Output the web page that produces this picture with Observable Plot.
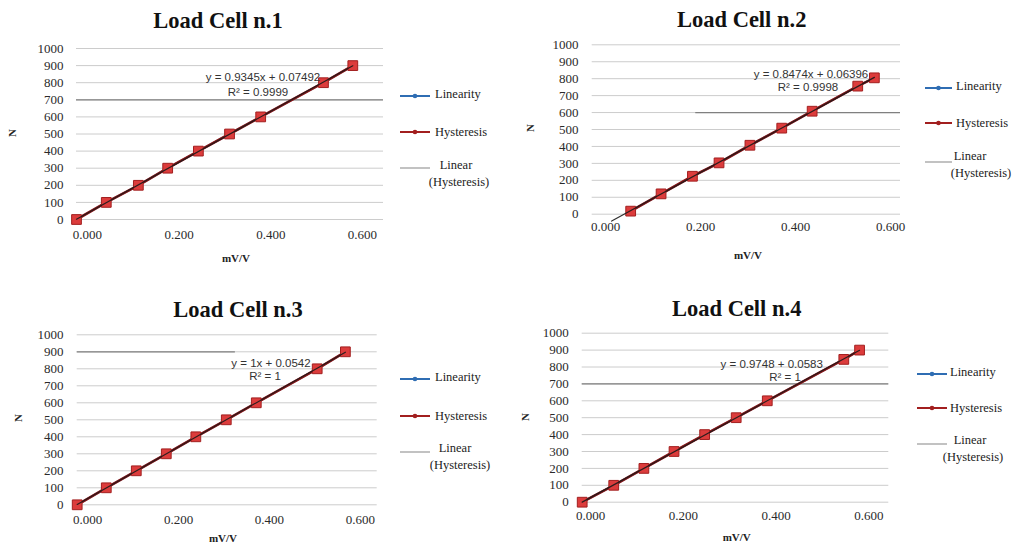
<!DOCTYPE html>
<html><head><meta charset="utf-8">
<script src="https://cdn.jsdelivr.net/npm/d3@7"></script>
<script src="https://cdn.jsdelivr.net/npm/@observablehq/plot@0.6"></script>
<style>
html,body{margin:0;padding:0;background:#fff;}
#root{position:relative;width:1015px;height:547px;overflow:hidden;background:#fff;}
.panel{position:absolute;}
.panel svg text{font-family:'Liberation Serif',serif !important;font-size:13px;fill:#2a2a2a;}
#overlay{position:absolute;left:0;top:0;pointer-events:none;}
</style>
</head><body>
<div id="root"></div>
<script>
// ---- data ----
const titles = ["Load Cell n.1", "Load Cell n.2", "Load Cell n.3", "Load Cell n.4"];
const cell1_mvv = [-0.024, 0.041, 0.111, 0.175, 0.242, 0.310, 0.378, 0.515, 0.579];
const cell1_N   = [0, 100, 200, 300, 400, 500, 600, 800, 900];
const cell2_mvv = [0.053, 0.117, 0.183, 0.239, 0.304, 0.371, 0.435, 0.531, 0.566];
const cell2_N   = [18, 120, 224, 303, 407, 508, 608, 756, 805];
const cell3_mvv = [-0.023, 0.041, 0.107, 0.173, 0.238, 0.305, 0.371, 0.505, 0.567];
const cell3_N   = [0, 100, 200, 300, 400, 500, 600, 800, 900];
const cell4_mvv = [-0.018, 0.050, 0.115, 0.180, 0.246, 0.314, 0.381, 0.546, 0.580];
const cell4_N   = [0, 100, 200, 300, 400, 500, 600, 845, 900];
const equations = ["y = 0.9345x + 0.07492", "y = 0.8474x + 0.06396", "y = 1x + 0.0542", "y = 0.9748 + 0.0583"];
const rSquared  = ["R² = 0.9999", "R² = 0.9998", "R² = 1", "R² = 1"];
const trendFrom = [null, 0.013, null, null];        // trendline start (mV/V); null = first point
// grid lines drawn darker in the picture: [N, from mV/V, to mV/V] (null = plot edge)
const darkGrid  = [[[700, null, null]], [[600, 0.19, null]], [[900, null, 0.325]], [[700, null, null]]];
const yTicks = [0, 100, 200, 300, 400, 500, 600, 700, 800, 900, 1000];
const xTicks = [0, 0.2, 0.4, 0.6];
const legendLabels = ["Linearity", "Hysteresis", "Linear", "(Hysteresis)"];
const xLabel = "mV/V", yLabel = "N";

const mvv = [cell1_mvv, cell2_mvv, cell3_mvv, cell4_mvv];
const loads = [cell1_N, cell2_N, cell3_N, cell4_N];

// ---- layout ----
const layout = [
  {left:0, top:0, w:500, h:270, ml:76, mr:117, mt:48, mb:51, xd:[-0.024,0.646], xpad:10, ypad:13,
   title:[218,28], ylab:[12,133], xlab:[236,258], eq:[[263,77],[258,92]],
   leg:{x1:400,x2:430,tx:435, y:[96,132,168], lin:[456,165], hys:[459,182]}},
  {left:500, top:0, w:515, h:270, ml:91.7, mr:115, mt:44.3, mb:56.3, xd:[-0.028,0.621], xpad:8, ypad:13.7,
   title:[741.7,27], ylab:[530,128], xlab:[748,255], eq:[[811,74],[808,87]],
   leg:{x1:925,x2:952,tx:956, y:[88,123,162], lin:[970,156], hys:[981,173]}},
  {left:0, top:290, w:500, h:257, ml:76.7, mr:123.3, mt:44.3, mb:42.7, xd:[-0.023,0.637], xpad:10, ypad:13.7,
   title:[238,317], ylab:[18,418], xlab:[223,538], eq:[[271,363],[265,376]],
   leg:{x1:400,x2:430,tx:435, y:[379,416,452], lin:[455,448], hys:[460,465]}},
  {left:500, top:290, w:515, h:257, ml:81.7, mr:126.7, mt:42.7, mb:45.3, xd:[-0.018,0.643], xpad:8.3, ypad:13.4,
   title:[736.7,316], ylab:[525,417], xlab:[736.7,537], eq:[[771.7,364],[785,377]],
   leg:{x1:917,x2:947,tx:950, y:[374,408,444], lin:[970,440], hys:[973,457]}}
];

function fit(xs, ys) {
  const mx = d3.mean(xs), my = d3.mean(ys);
  let sxy = 0, sxx = 0;
  xs.forEach((x, i) => { sxy += (x - mx) * (ys[i] - my); sxx += (x - mx) ** 2; });
  const b = sxy / sxx; return {b, a: my - b * mx};
}

const root = document.getElementById("root");
layout.forEach((L, i) => {
  const data = mvv[i].map((x, k) => ({x, y: loads[i][k]}));
  const {a, b} = fit(mvv[i], loads[i]);
  const x0 = trendFrom[i] ?? d3.min(mvv[i]), x1 = d3.max(mvv[i]);
  const trend = [x0, x1].map(x => ({x, y: a + b * x}));
  const dark = darkGrid[i].map(([y, f, t]) => ({y, x1: f ?? L.xd[0], x2: t ?? L.xd[1]}));
  const chart = Plot.plot({
    width: L.w, height: L.h,
    marginLeft: L.ml, marginRight: L.mr, marginTop: L.mt, marginBottom: L.mb,
    style: {fontFamily: "'Liberation Serif', serif", fontSize: "13px", color: "#2a2a2a", background: "transparent", overflow: "visible"},
    x: {domain: L.xd, ticks: xTicks, tickFormat: d3.format(".3f"), tickSize: 0, tickPadding: L.xpad, label: null},
    y: {domain: [0, 1000], ticks: yTicks, tickFormat: d3.format("d"), tickSize: 0, tickPadding: L.ypad, label: null},
    marks: [
      Plot.ruleY(yTicks, {stroke: "#cccccc", strokeWidth: 1}),
      Plot.ruleY(dark, {y: "y", x1: "x1", x2: "x2", stroke: "#808080", strokeWidth: 1.2}),
      Plot.line(data, {x: "x", y: "y", stroke: "#2f6db3", strokeWidth: 2}),
      Plot.line(data, {x: "x", y: "y", stroke: "#8e1616", strokeWidth: 2.6}),
      Plot.dot(data, {x: "x", y: "y", symbol: "square", r: 5.5, fill: "#dc3c3c", stroke: "#a21f1f", strokeWidth: 1}),
      Plot.line(trend, {x: "x", y: "y", stroke: "#1a1a1a", strokeWidth: 1.2, strokeOpacity: 0.9})
    ]
  });
  const div = document.createElement("div");
  div.className = "panel";
  div.style.left = L.left + "px"; div.style.top = L.top + "px";
  div.appendChild(chart);
  root.appendChild(div);
});

// ---- overlay: titles, axis titles, equations, legends ----
const svg = d3.select(root).append("svg").attr("id", "overlay").attr("width", 1015).attr("height", 547);
layout.forEach((L, i) => {
  svg.append("text").attr("x", L.title[0]).attr("y", L.title[1]).attr("text-anchor", "middle")
    .attr("font-family", "'Liberation Serif', serif").attr("font-weight", "bold").attr("font-size", 22.5)
    .attr("fill", "#111").text(titles[i]);
  svg.append("text").attr("transform", `translate(${L.ylab[0]},${L.ylab[1]}) rotate(-90)`)
    .attr("text-anchor", "middle").attr("dy", "0.35em")
    .attr("font-family", "'Liberation Serif', serif").attr("font-weight", "bold").attr("font-size", 11)
    .attr("fill", "#222").text(yLabel);
  svg.append("text").attr("x", L.xlab[0]).attr("y", L.xlab[1]).attr("text-anchor", "middle").attr("dy", "0.35em")
    .attr("font-family", "'Liberation Serif', serif").attr("font-weight", "bold").attr("font-size", 11)
    .attr("fill", "#222").text(xLabel);
  [equations[i], rSquared[i]].forEach((t, k) => {
    svg.append("text").attr("x", L.eq[k][0]).attr("y", L.eq[k][1]).attr("text-anchor", "middle").attr("dy", "0.35em")
      .attr("font-family", "'Liberation Sans', Arial, sans-serif").attr("font-size", 11.5)
      .attr("fill", "#333").text(t);
  });
  const g = L.leg;
  const colors = ["#2f6db3", "#a21f1f", "#9a9a9a"];
  g.y.forEach((yy, k) => {
    svg.append("line").attr("x1", g.x1).attr("x2", g.x2).attr("y1", yy).attr("y2", yy)
      .attr("stroke", colors[k]).attr("stroke-width", k === 2 ? 1.2 : 2);
    if (k < 2) svg.append("circle").attr("cx", (g.x1 + g.x2) / 2).attr("cy", yy).attr("r", 2.3).attr("fill", colors[k]);
  });
  const tstyle = sel => sel.attr("font-family", "'Liberation Serif', serif").attr("font-size", 12.5).attr("fill", "#222").attr("dy", "0.35em");
  svg.append("text").attr("x", g.tx).attr("y", g.y[0] - 2).call(tstyle).text(legendLabels[0]);
  svg.append("text").attr("x", g.tx).attr("y", g.y[1]).call(tstyle).text(legendLabels[1]);
  svg.append("text").attr("x", g.lin[0]).attr("y", g.lin[1]).attr("text-anchor", "middle").call(tstyle).text(legendLabels[2]);
  svg.append("text").attr("x", g.hys[0]).attr("y", g.hys[1]).attr("text-anchor", "middle").call(tstyle).text(legendLabels[3]);
});
</script>
</body></html>
